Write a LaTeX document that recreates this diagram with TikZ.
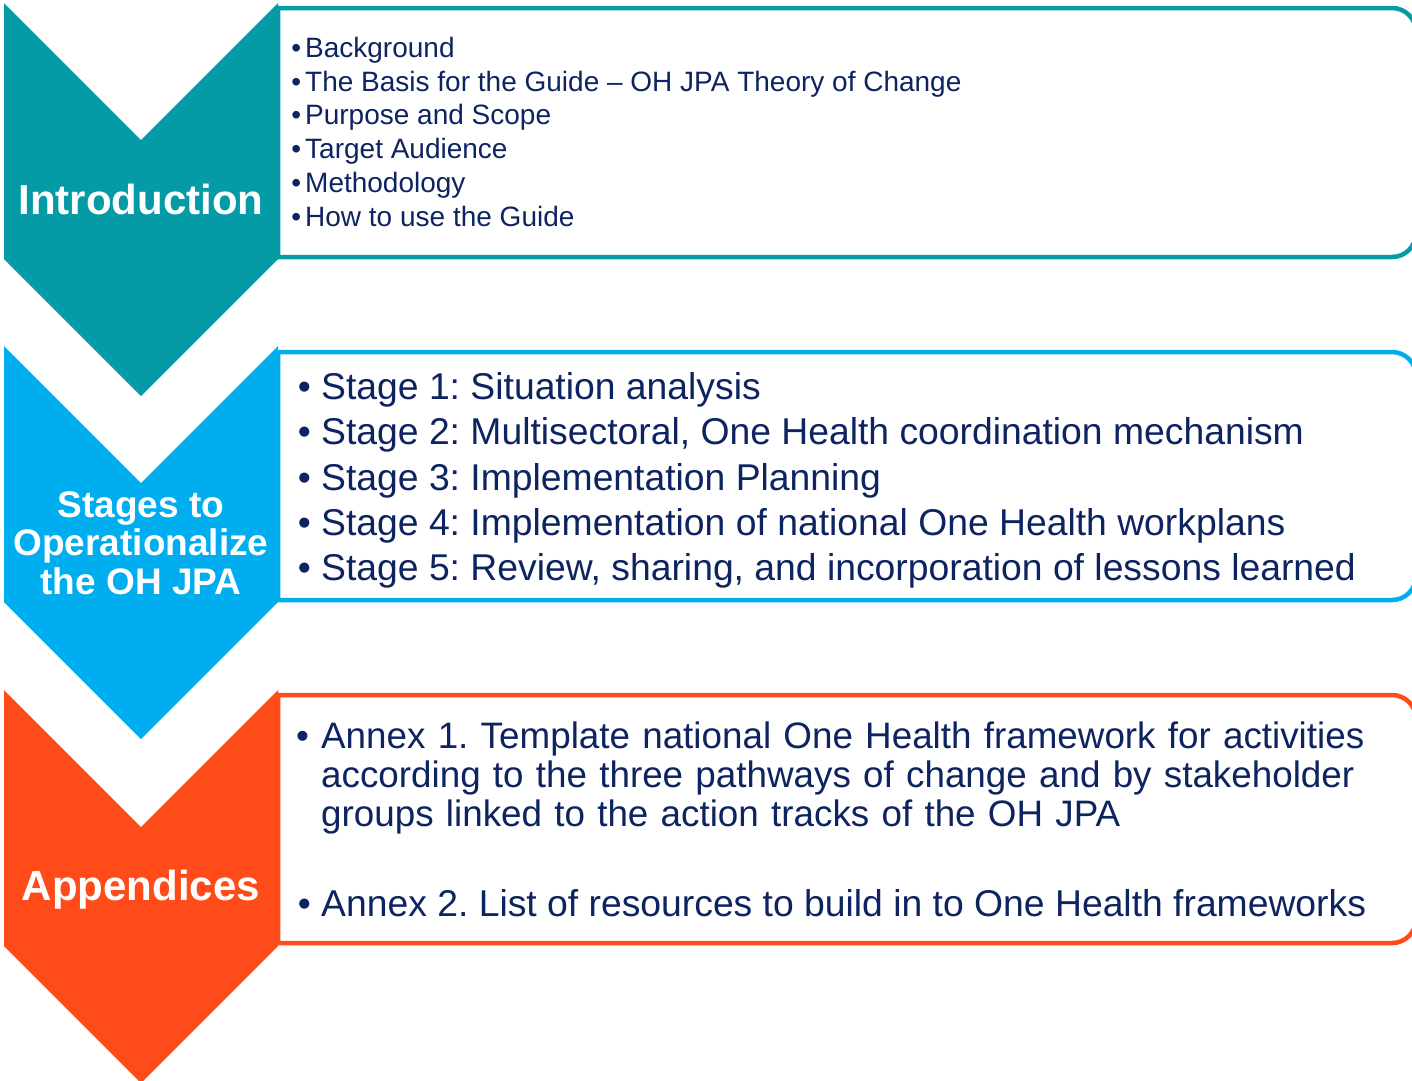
\documentclass[tikz,border=0pt]{standalone}
\usepackage{fontspec}
\setmainfont{Liberation Sans}
\usetikzlibrary{positioning}
\definecolor{introteal}{RGB}{4,155,166}
\definecolor{stageblue}{RGB}{0,174,239}
\definecolor{annexorange}{RGB}{255,75,25}
\definecolor{navy}{RGB}{14,36,97}
\frenchspacing

\begin{document}
\begin{tikzpicture}
    [
        x=1pt, y=1pt,
        chevlabel/.style={text=white, font=\bfseries\fontsize{42}{46}\selectfont, align=center, inner sep=0pt},
        listbox/.style={draw=#1, line width=4.5pt, fill=white},
        introitem/.style={text=navy, font=\fontsize{28}{34}\selectfont, inner sep=0pt, text height=24pt, text depth=9.4pt, anchor=north west},
        stageitem/.style={text=navy, font=\fontsize{37.3}{45}\selectfont, inner sep=0pt, text height=33pt, text depth=12pt, anchor=north west}
    ]
    \useasboundingbox (0,0) rectangle (1412,-1080);

    % boxes behind the arrows
    \path[listbox=introteal] (278,-8) -- (1392,-8) arc[start angle=90, end angle=0, radius=24] -- (1416,-233) arc[start angle=0, end angle=-90, radius=24] -- (278,-257) -- cycle;
    \path[listbox=stageblue] (278,-352) -- (1392,-352) arc[start angle=90, end angle=0, radius=24] -- (1416,-576) arc[start angle=0, end angle=-90, radius=24] -- (278,-600) -- cycle;
    \path[listbox=annexorange] (278,-695) -- (1392,-695) arc[start angle=90, end angle=0, radius=24] -- (1416,-919) arc[start angle=0, end angle=-90, radius=24] -- (278,-943) -- cycle;

    % chevrons
    \fill[introteal] (4,-3) -- (141,-140) -- (278,-3) -- (278,-259) -- (141,-396) -- (4,-259) -- cycle;
    \fill[stageblue] (4,-346) -- (141,-483) -- (278,-346) -- (278,-602) -- (141,-739) -- (4,-602) -- cycle;
    \fill[annexorange] (4,-690) -- (141,-827) -- (278,-690) -- (278,-946) -- (141,-1083) -- (4,-946) -- cycle;

    \node[chevlabel] (intro) at (141,-199) {Introduction};
    \node[chevlabel, font=\bfseries\fontsize{37}{38.5}\selectfont] (stages) at (141,-543) {Stages to\\Operationalize\\the OH JPA};
    \node[chevlabel] (appx) at (141,-890) {Appendices};

    % introduction
    \node[introitem] (bg) at (305,-33) {\llap{•\kern4pt}Background};
    \node[introitem, below=0pt of bg.south west, anchor=north west] (basis) {\llap{•\kern4pt}The Basis for the Guide – OH JPA Theory of Change};
    \node[introitem, below=0pt of basis.south west, anchor=north west] (scope) {\llap{•\kern4pt}Purpose and Scope};
    \node[introitem, below=0pt of scope.south west, anchor=north west] (aud) {\llap{•\kern4pt}Target Audience};
    \node[introitem, below=0pt of aud.south west, anchor=north west] (meth) {\llap{•\kern4pt}Methodology};
    \node[introitem, below=0pt of meth.south west, anchor=north west] (howto) {\llap{•\kern4pt}How to use the Guide};

    % stages
    \node[stageitem] (s1) at (321,-366) {\llap{•\ }Stage 1: Situation analysis};
    \node[stageitem, below=0pt of s1.south west, anchor=north west] (s2) {\llap{•\ }Stage 2: Multisectoral, One Health coordination mechanism};
    \node[stageitem, below=0pt of s2.south west, anchor=north west] (s3) {\llap{•\ }Stage 3: Implementation Planning};
    \node[stageitem, below=0pt of s3.south west, anchor=north west] (s4) {\llap{•\ }Stage 4: Implementation of national One Health workplans};
    \node[stageitem, below=0pt of s4.south west, anchor=north west] (s5) {\llap{•\ }Stage 5: Review, sharing, and incorporation of lessons learned};

    % annexes
    \node[text=navy, font=\fontsize{36.8}{39}\selectfont, text width=1090pt, align=left, inner sep=0pt, anchor=base west] (annex1) at (321,-748) {\llap{•\ }Annex 1. Template national One Health framework for activities\\according to the three pathways of change and by stakeholder\\groups linked to the action tracks of the OH JPA};
    \node[stageitem] (annex2) at (321,-883) {\llap{•\ }Annex 2. List of resources to build in to One Health frameworks};
\end{tikzpicture}
\end{document}
